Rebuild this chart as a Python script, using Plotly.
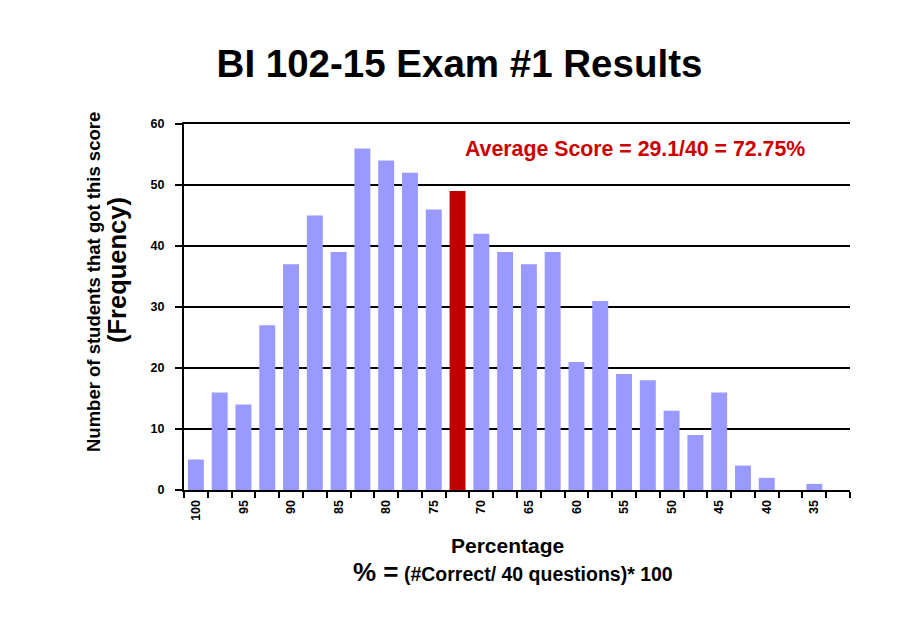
import plotly.graph_objects as go

categories = ["100", "97.5", "95", "92.5", "90", "87.5", "85", "82.5", "80", "77.5",
              "75", "72.5", "70", "67.5", "65", "62.5", "60", "57.5", "55", "52.5",
              "50", "47.5", "45", "42.5", "40", "37.5", "35", "32.5"]
counts = [5, 16, 14, 27, 37, 45, 39, 56, 54, 52,
          46, 49, 42, 39, 37, 39, 21, 31, 19, 18,
          13, 9, 16, 4, 2, 0, 1, 0]
tick_labels = ["100", "", "95", "", "90", "", "85", "", "80", "",
               "75", "", "70", "", "65", "", "60", "", "55", "",
               "50", "", "45", "", "40", "", "35", ""]
average_category = "72.5"
y_ticks = [0, 10, 20, 30, 40, 50, 60]

BLUE = "#9999FF"
RED = "#C00000"
FONT = "Liberation Sans, Arial, sans-serif"

colors = [RED if c == average_category else BLUE for c in categories]

# page has an 8px body margin, so the figure is drawn 8px in from the window edge
W, H = 903, 615
L, T, PW, PH = 176, 116, 666, 366

fig = go.Figure()
fig.add_trace(go.Bar(x=categories, y=counts, marker=dict(color=colors, line=dict(width=0)),
                     showlegend=False))

fig.update_layout(
    width=W, height=H,
    margin=dict(l=L, r=W - L - PW, t=T, b=H - T - PH, autoexpand=False),
    paper_bgcolor="white", plot_bgcolor="white",
    bargap=0.33,
    font=dict(family=FONT, color="black"),
    title=dict(text="<b>BI 102-15 Exam #1 Results</b>", x=(459.5 - 8) / W, xref="container",
               xanchor="center", y=1 - (64 - 8) / H, yanchor="middle",
               font=dict(size=38.5, family=FONT, color="black")),
)

fig.update_xaxes(
    type="category", categoryorder="array", categoryarray=categories,
    tickmode="array", tickvals=categories, ticktext=["<b>%s</b>" % t if t else "" for t in tick_labels],
    tickangle=-90, tickson="boundaries", ticks="outside", ticklen=6, tickwidth=2, tickcolor="black",
    ticklabelstandoff=3,
    tickfont=dict(size=12.5, family=FONT, color="black"),
    showline=True, mirror=True, linecolor="black", linewidth=2, showgrid=False, layer="above traces",
    range=[-0.5, len(categories) - 0.5],
)
fig.update_yaxes(
    range=[0, 60], tickmode="array", tickvals=y_ticks, ticktext=["<b>%d</b>" % v for v in y_ticks],
    ticks="outside", ticklen=7, tickwidth=2, tickcolor="black", ticklabelstandoff=8,
    tickfont=dict(size=12.5, family=FONT, color="black"),
    showline=True, linecolor="black", linewidth=2,
    showgrid=True, gridcolor="black", gridwidth=2, zeroline=False, layer="above traces",
)

def px_x(px):
    return (px - 184) / PW

def px_y(py):
    return (490 - py) / PH

annotations = [
    dict(text="<b>Number of students that got this score</b>", x=px_x(93), y=px_y(282),
         textangle=-90, font=dict(size=18.5, family=FONT, color="black")),
    dict(text="<b>(Frequency)</b>", x=px_x(117), y=px_y(270),
         textangle=-90, font=dict(size=25.5, family=FONT, color="black")),
    dict(text="<b>Percentage</b>", x=px_x(507), y=px_y(545),
         font=dict(size=21, family=FONT, color="black")),
    dict(text="<b><span style='font-size:26px'>% =</span> (#Correct/ 40 questions)* 100</b>",
         x=px_x(513), y=px_y(572),
         font=dict(size=19.5, family=FONT, color="black")),
    dict(text="<b>Average Score = 29.1/40 = 72.75%</b>", x=px_x(635), y=px_y(149),
         font=dict(size=21.3, family=FONT, color="#CC0000")),
]
for a in annotations:
    a.update(xref="paper", yref="paper", xanchor="center", yanchor="middle", showarrow=False)
fig.update_layout(annotations=annotations)

fig.write_html("out.html")
